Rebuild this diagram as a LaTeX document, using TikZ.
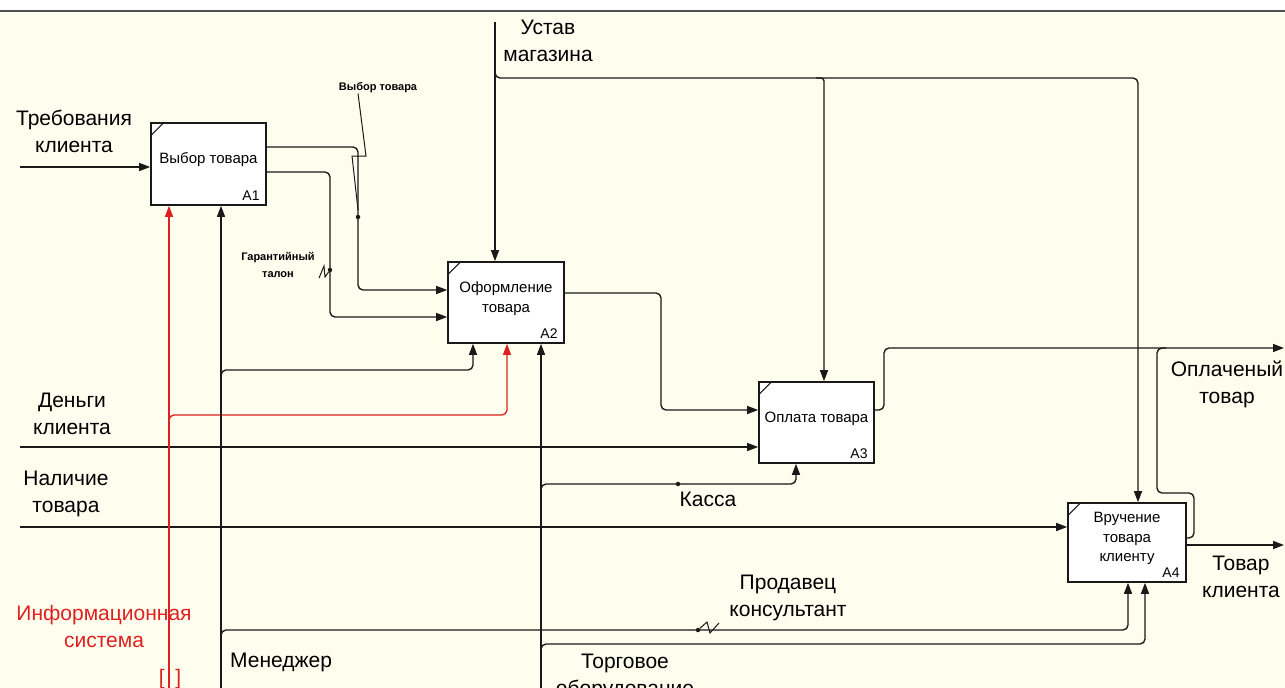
\documentclass[tikz,border=0pt]{standalone}
\usepackage{fontspec}
\setmainfont{Liberation Sans}
\usetikzlibrary{arrows.meta,calc}
\definecolor{bgc}{RGB}{254,254,238}
\definecolor{linec}{RGB}{25,25,25}
\definecolor{redc}{RGB}{222,32,32}
\definecolor{topc}{RGB}{80,80,80}
\newcommand{\bigfont}{\fontsize{21}{27}\selectfont}
\newcommand{\boxfont}{\fontsize{15}{19.5}\selectfont}
\newcommand{\numfont}{\fontsize{14}{16}\selectfont}
\newcommand{\smallbold}{\fontsize{11}{17}\selectfont\bfseries}
\begin{document}
\begin{tikzpicture}[x=1pt,y=-1pt,
  ln/.style={line width=1.35pt, draw=linec},
  arr/.style={ln, -{Triangle[length=11pt,width=8pt]}},
  rarr/.style={arr, draw=redc},
  rc/.style={rounded corners=5pt},
  box/.style={draw=linec, line width=1.6pt, fill=white, inner sep=0pt},
  fname/.style={font=\boxfont, align=center, inner sep=0pt},
  anum/.style={font=\numfont, inner sep=0pt, anchor=south east},
  lbl/.style={font=\bigfont, align=center, inner sep=0pt, anchor=base},
  sml/.style={font=\smallbold, align=center, inner sep=0pt},
  dot/.style={circle, fill=linec, inner sep=0pt, minimum size=4.5pt}
]
\useasboundingbox (0,0) rectangle (1285,688);
\clip (0,0) rectangle (1285,688);
\fill[bgc] (0,11) rectangle (1285,688);
\draw[topc, line width=1.8pt] (0,11) -- (1285,11);

% boxes
\node[box, minimum width=115pt, minimum height=82pt] (a1) at (208.5,164) {};
\node[box, minimum width=116pt, minimum height=81pt] (a2) at (506,302.5) {};
\node[box, minimum width=115pt, minimum height=81pt] (a3) at (816.5,422.5) {};
\node[box, minimum width=118pt, minimum height=79pt] (a4) at (1127,542.5) {};
\foreach \b in {a1,a2,a3,a4}{
  \draw[ln, line width=1pt] ($(\b.north west)+(0,14)$) -- ($(\b.north west)+(14,0)$);
}
\node[fname] (a1t) at ([yshift=4pt]a1.center) {Выбор товара};
\node[fname] (a2t) at ([yshift=4pt]a2.center) {Оформление\\товара};
\node[fname] (a3t) at ([yshift=4pt]a3.center) {Оплата товара};
\node[fname] (a4t) at ([yshift=4pt]a4.center) {Вручение\\товара\\клиенту};
\node[anum] (a1n) at ([xshift=-7pt,yshift=5pt]a1.south east) {A1};
\node[anum] (a2n) at ([xshift=-7pt,yshift=5pt]a2.south east) {A2};
\node[anum] (a3n) at ([xshift=-7pt,yshift=5pt]a3.south east) {A3};
\node[anum] (a4n) at ([xshift=-7pt,yshift=5pt]a4.south east) {A4};

% inputs
\coordinate (reqs) at (20,167);
\draw[arr] (reqs) -- (reqs -| a1.west);
\coordinate (den) at (20,447);
\draw[arr] (den) -- (den -| a3.west);
\coordinate (nal) at (20,527);
\draw[arr] (nal) -- (nal -| a4.west);

% A1 outputs
\draw[arr, rc] (a1.east |- 0,147) -- (358,147) -- (358,290) -- (a2.west |- 0,290);
\draw[arr, rc] (a1.east |- 0,172) -- (330,172) -- (330,317) -- (a2.west |- 0,317);
\node[sml] (vyb) at (378,88) {Выбор товара};
\draw[ln, line width=1pt] (vyb.south -| 358,0) -- (366,156) -- (352,156) -- (358,210);
\node[dot] (d1) at (358,217) {};
\node[sml, anchor=base] (gar) at (278,277) {Гарантийный\\талон};
\node[dot] (d2) at (330,270) {};
\draw[ln, line width=1pt] (319,278) -- (324,266) -- (325,277) -- (d2);

% control
\coordinate (ust) at (495,22);
\draw[arr] (ust) -- (ust |- a2.north);
\draw[arr, rc] (495,68) -- (495,78) -- (1138,78) -- (a4.north -| 1138,0);
\draw[arr, rounded corners=3pt] (816,78) -- (824,78) -- (a3.north -| 824,0);

% A2 -> A3
\draw[arr, rc] (a2.east |- 0,293) -- (661,293) -- (661,410) -- (a3.west |- 0,410);

% A3 output
\coordinate (oplEnd) at (1284,348);
\draw[arr, rc] (a3.east |- 0,410) -- (884,410) -- (884,348) -- (oplEnd);
\draw[ln, rc] (a4.east |- 0,538) -- (1194,538) -- (1194,493) -- (1157,493) -- (1157,348) -- (1166,348);

% A4 output
\coordinate (tovEnd) at (1284,545);
\draw[arr] (a4.east |- 0,545) -- (tovEnd);

% mechanisms
\coordinate (isB) at (169,688);
\draw[rarr] (isB) -- (isB |- a1.south);
\draw[rarr, rc] (169,425) -- (169,415) -- (507,415) -- (a2.south -| 507,0);

\coordinate (menB) at (221,688);
\draw[arr] (menB) -- (menB |- a1.south);
\draw[arr, rc] (221,380) -- (221,370) -- (473,370) -- (a2.south -| 473,0);
\draw[arr, rc] (221,640) -- (221,630) -- (1128,630) -- (a4.south -| 1128,0);
\node[dot] (d3) at (698,630) {};
\draw[ln, line width=1pt] (d3) -- (707,622) -- (710,633) -- (719,623);

\coordinate (torB) at (541,688);
\draw[arr] (torB) -- (torB |- a2.south);
\draw[arr, rc] (541,494) -- (541,484) -- (796,484) -- (a3.south -| 796,0);
\draw[arr, rc] (541,654) -- (541,644) -- (1145,644) -- (a4.south -| 1145,0);
\node[dot] (d4) at (678,484) {};

% labels
\node[lbl] (treb) at (74,152) {Требования\\клиента};
\node[lbl] (ustl) at (548,61) {Устав\\магазина};
\node[lbl] (denl) at (72,434) {Деньги\\клиента};
\node[lbl] (nall) at (66,512) {Наличие\\товара};
\node[lbl] (opll) at (1227,403) {Оплаченый\\товар};
\node[lbl] (tovl) at (1241,597) {Товар\\клиента};
\node[lbl] (kasl) at (708,506) {Касса};
\node[lbl] (prodl) at (788,616) {Продавец\\консультант};
\node[lbl, anchor=base west] (menl) at (230,667) {Менеджер};
\node[lbl] (torl) at (625,695) {Торговое\\оборудование};
\node[lbl, text=redc] (infl) at (104,647) {Информационная\\система};
\node[lbl, text=redc] (tun) at (170,684) {[\,\,\,]};
\end{tikzpicture}
\end{document}
